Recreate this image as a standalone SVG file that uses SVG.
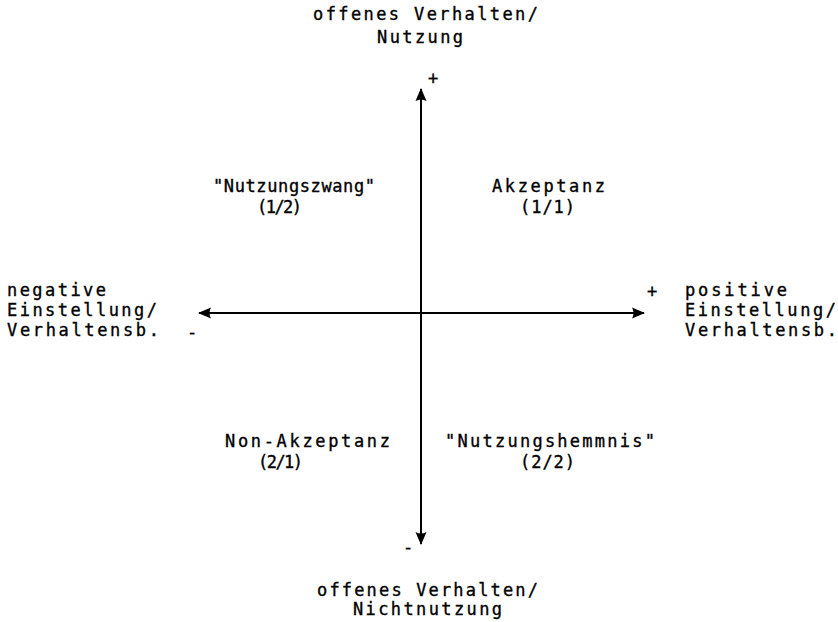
<svg xmlns="http://www.w3.org/2000/svg" width="838" height="622" viewBox="0 0 838 622">
<style>
text{font-family:"DejaVu Sans Mono","Liberation Mono",monospace;font-size:17px;fill:#000;stroke:#000;stroke-width:0.35}
.ax{stroke:#000;stroke-width:2;fill:none}
</style>
<defs>
<marker id="ah" viewBox="0 0 13 12" refX="12" refY="6" markerWidth="13" markerHeight="12" markerUnits="userSpaceOnUse" orient="auto-start-reverse">
<path d="M0,0.5 L13,6 L0,11.5 Q3,6 0,0.5 Z" fill="#000"/>
</marker>
</defs>
<rect width="838" height="622" fill="#fff"/>
<g id="connectors">
<line class="ax" x1="421" y1="89" x2="421" y2="544" marker-start="url(#ah)" marker-end="url(#ah)"/>
<line class="ax" x1="199" y1="313" x2="644" y2="313" marker-start="url(#ah)" marker-end="url(#ah)"/>
</g>
<g id="signs">
<text x="428" y="84">+</text>
<text x="647" y="297">+</text>
<text x="187" y="338">-</text>
<text x="403" y="553">-</text>
</g>
<g id="top-label">
<text x="313" y="20" textLength="225" lengthAdjust="spacing">offenes Verhalten/</text>
<text x="377" y="43" textLength="86" lengthAdjust="spacing">Nutzung</text>
</g>
<g id="bottom-label">
<text x="317" y="596" textLength="221" lengthAdjust="spacing">offenes Verhalten/</text>
<text x="353" y="615" textLength="149" lengthAdjust="spacing">Nichtnutzung</text>
</g>
<g id="left-label">
<text x="7" y="296" textLength="99" lengthAdjust="spacing">negative</text>
<text x="7" y="316" textLength="150" lengthAdjust="spacing">Einstellung/</text>
<text x="7" y="336" textLength="152" lengthAdjust="spacing">Verhaltensb.</text>
</g>
<g id="right-label">
<text x="685" y="296" textLength="102" lengthAdjust="spacing">positive</text>
<text x="685" y="316" textLength="151" lengthAdjust="spacing">Einstellung/</text>
<text x="685" y="336" textLength="152" lengthAdjust="spacing">Verhaltensb.</text>
</g>
<g id="q12">
<text x="213" y="192" textLength="162" lengthAdjust="spacing">"Nutzungszwang"</text>
<text x="257" y="213" textLength="45" lengthAdjust="spacing">(1/2)</text>
</g>
<g id="q11">
<text x="492" y="192" textLength="113" lengthAdjust="spacing">Akzeptanz</text>
<text x="520" y="213" textLength="55" lengthAdjust="spacing">(1/1)</text>
</g>
<g id="q21">
<text x="225" y="447" textLength="165" lengthAdjust="spacing">Non-Akzeptanz</text>
<text x="258" y="468" textLength="45" lengthAdjust="spacing">(2/1)</text>
</g>
<g id="q22">
<text x="445" y="447" textLength="210" lengthAdjust="spacing">"Nutzungshemmnis"</text>
<text x="520" y="468" textLength="55" lengthAdjust="spacing">(2/2)</text>
</g>
</svg>
